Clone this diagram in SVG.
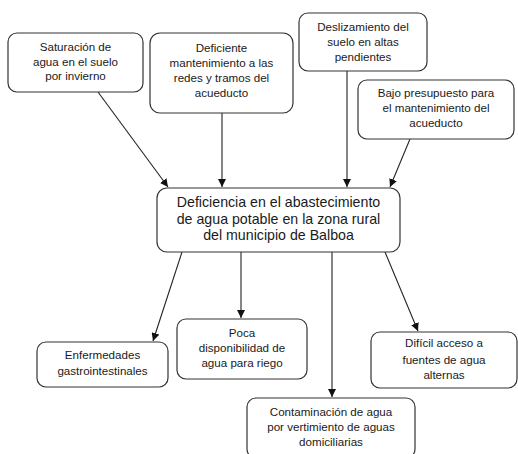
<svg xmlns="http://www.w3.org/2000/svg" width="518" height="454" viewBox="0 0 518 454">
<defs>
<style>
.box{fill:#fff;stroke:#333;stroke-width:1.2}
text{font-family:"Liberation Sans",Arial,sans-serif;font-size:11.6px;fill:#1a1a1a;text-anchor:middle}
.big{font-size:14.2px}
.c{stroke:#222;stroke-width:1.1;fill:none;marker-end:url(#ah)}
</style>
<marker id="ah" viewBox="0 0 10 10" refX="10" refY="5" markerWidth="8" markerHeight="8" markerUnits="userSpaceOnUse" orient="auto">
<path d="M0,0 L10,5 L0,10 z" fill="#111"/>
</marker>
</defs>
<rect width="518" height="454" fill="#fff"/>
<g id="connectors">
<line class="c" x1="98" y1="92" x2="168" y2="187"/>
<line class="c" x1="222" y1="113" x2="222" y2="187"/>
<line class="c" x1="347" y1="71" x2="347" y2="187"/>
<line class="c" x1="410" y1="139" x2="390" y2="187"/>
<line class="c" x1="182" y1="252" x2="153" y2="341"/>
<line class="c" x1="241" y1="252" x2="241" y2="318"/>
<line class="c" x1="332" y1="252" x2="332" y2="397"/>
<line class="c" x1="385" y1="252" x2="418" y2="331"/>
</g>
<g id="n1"><rect class="box" x="8" y="33" width="135" height="59" rx="9"/>
<text x="75.5" y="51">Saturación de</text><text x="75.5" y="66">agua en el suelo</text><text x="75.5" y="80">por invierno</text></g>
<g id="n2"><rect class="box" x="150" y="33" width="143" height="80" rx="10"/>
<text x="221.5" y="52">Deficiente</text><text x="221.5" y="67">mantenimiento a las</text><text x="221.5" y="82">redes y tramos del</text><text x="221.5" y="97">acueducto</text></g>
<g id="n3"><rect class="box" x="299" y="13" width="128" height="58" rx="9"/>
<text x="363" y="31">Deslizamiento del</text><text x="363" y="46">suelo en altas</text><text x="363" y="61">pendientes</text></g>
<g id="n4"><rect class="box" x="358" y="80" width="156" height="59" rx="9"/>
<text x="436" y="97">Bajo presupuesto para</text><text x="436" y="112">el mantenimiento del</text><text x="436" y="127">acueducto</text></g>
<g id="center"><rect class="box" x="157" y="188" width="243" height="64" rx="10"/>
<text class="big" x="278.5" y="207">Deficiencia en el abastecimiento</text><text class="big" x="278.5" y="224">de agua potable en la zona rural</text><text class="big" x="278.5" y="240">del municipio de Balboa</text></g>
<g id="e1"><rect class="box" x="37" y="342" width="131" height="45" rx="9"/>
<text x="102.5" y="359">Enfermedades</text><text x="102.5" y="375">gastrointestinales</text></g>
<g id="e2"><rect class="box" x="177" y="319" width="130" height="60" rx="9"/>
<text x="242" y="337">Poca</text><text x="242" y="352">disponibilidad de</text><text x="242" y="367">agua para riego</text></g>
<g id="e3"><rect class="box" x="247" y="398" width="168" height="60" rx="9"/>
<text x="331" y="416">Contaminación de agua</text><text x="331" y="431">por vertimiento de aguas</text><text x="331" y="446">domiciliarias</text></g>
<g id="e4"><rect class="box" x="371" y="332" width="146" height="56" rx="9"/>
<text x="444" y="347">Difícil acceso a</text><text x="444" y="364">fuentes de agua</text><text x="444" y="379">alternas</text></g>
</svg>
